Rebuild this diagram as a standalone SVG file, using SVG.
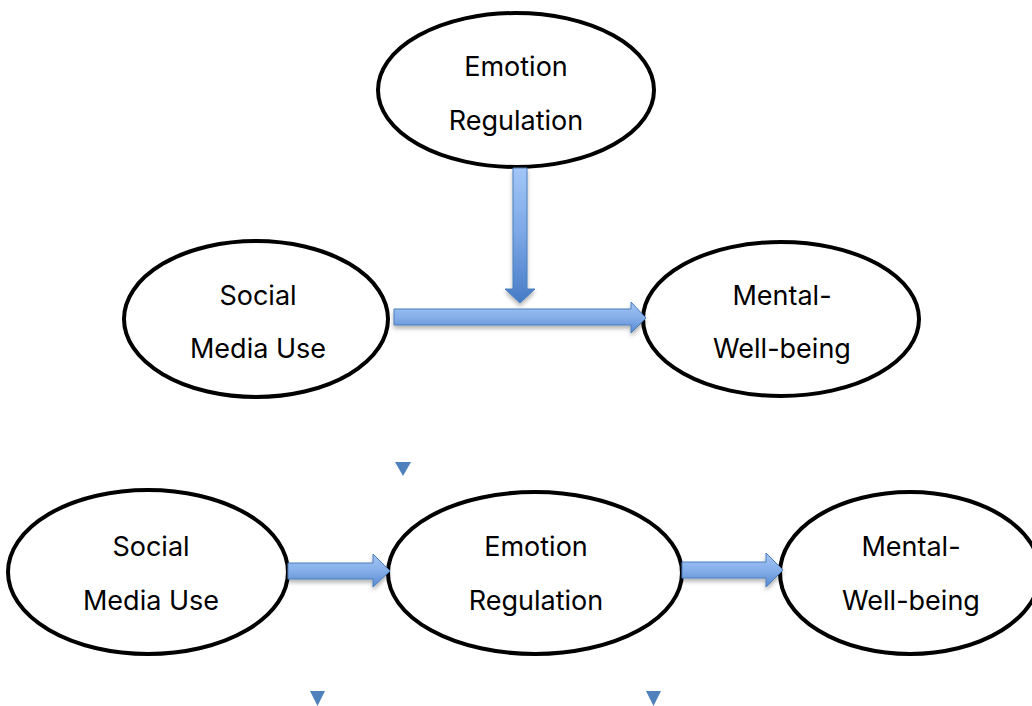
<svg xmlns="http://www.w3.org/2000/svg" width="1032" height="706" viewBox="0 0 1032 706">
  <defs>
    <style>
      .node { fill: #ffffff; stroke: #000000; stroke-width: 4; }
      .lbl { font-family: Inter, "Open Sans", "Liberation Sans", sans-serif; font-size: 27px; fill: #000000; text-anchor: middle; }
      .harrow { fill: url(#gradH); stroke: #4a7ebb; stroke-width: 1; filter: url(#shadow); }
      .varrow { fill: url(#gradV); stroke: #4a7ebb; stroke-width: 1; filter: url(#shadow); }
      .tri { fill: #4f81bd; }
    </style>
    <linearGradient id="gradH" x1="0" y1="0" x2="0" y2="1">
      <stop offset="0" stop-color="#a3c5f5"/>
      <stop offset="0.5" stop-color="#86afe9"/>
      <stop offset="1" stop-color="#5688d2"/>
    </linearGradient>
    <linearGradient id="gradV" x1="0" y1="0" x2="0" y2="1">
      <stop offset="0" stop-color="#a3c6f7"/>
      <stop offset="0.5" stop-color="#7aa6e5"/>
      <stop offset="1" stop-color="#467bc6"/>
    </linearGradient>
    <filter id="shadow" x="-10%" y="-30%" width="120%" height="160%">
      <feDropShadow dx="0" dy="3" stdDeviation="2" flood-color="#000000" flood-opacity="0.3"/>
    </filter>
  </defs>

  <g id="node-top-emotion">
    <ellipse class="node" cx="516" cy="90" rx="138" ry="77"/>
    <text class="lbl" x="516" y="76">Emotion</text>
    <text class="lbl" x="516" y="130">Regulation</text>
  </g>
  <g id="node-top-social">
    <ellipse class="node" cx="256" cy="319" rx="132" ry="78"/>
    <text class="lbl" x="258" y="305">Social</text>
    <text class="lbl" x="258" y="358">Media Use</text>
  </g>
  <g id="node-top-mental">
    <ellipse class="node" cx="781" cy="319" rx="138" ry="77"/>
    <text class="lbl" x="782" y="305">Mental-</text>
    <text class="lbl" x="782" y="358">Well-being</text>
  </g>

  <g id="node-bottom-social">
    <ellipse class="node" cx="148" cy="572" rx="140" ry="82"/>
    <text class="lbl" x="151" y="556">Social</text>
    <text class="lbl" x="151" y="610">Media Use</text>
  </g>
  <g id="node-bottom-emotion">
    <ellipse class="node" cx="535" cy="573" rx="147" ry="81"/>
    <text class="lbl" x="536" y="556">Emotion</text>
    <text class="lbl" x="536" y="610">Regulation</text>
  </g>
  <g id="node-bottom-mental">
    <ellipse class="node" cx="910" cy="573" rx="130" ry="81"/>
    <text class="lbl" x="911" y="556">Mental-</text>
    <text class="lbl" x="911" y="610">Well-being</text>
  </g>

  <g id="connectors">
    <path class="varrow" d="M513,168 L527,168 L527,289 L535,289 L520,303 L505,289 L513,289 Z"/>
    <path class="harrow" d="M394,309 L631,309 L631,302 L646,318 L631,333 L631,325 L394,325 Z"/>
    <path class="harrow" d="M288,563 L373,563 L373,554 L390,571 L373,587 L373,579 L288,579 Z"/>
    <path class="harrow" d="M682,562 L766,562 L766,553 L783,570 L766,587 L766,578 L682,578 Z"/>
  </g>

  <g id="markers">
    <polygon class="tri" points="395,462 411,462 403,476"/>
    <polygon class="tri" points="310,691 325,691 317.5,706"/>
    <polygon class="tri" points="646,691 661,691 653.5,706"/>
  </g>
</svg>
